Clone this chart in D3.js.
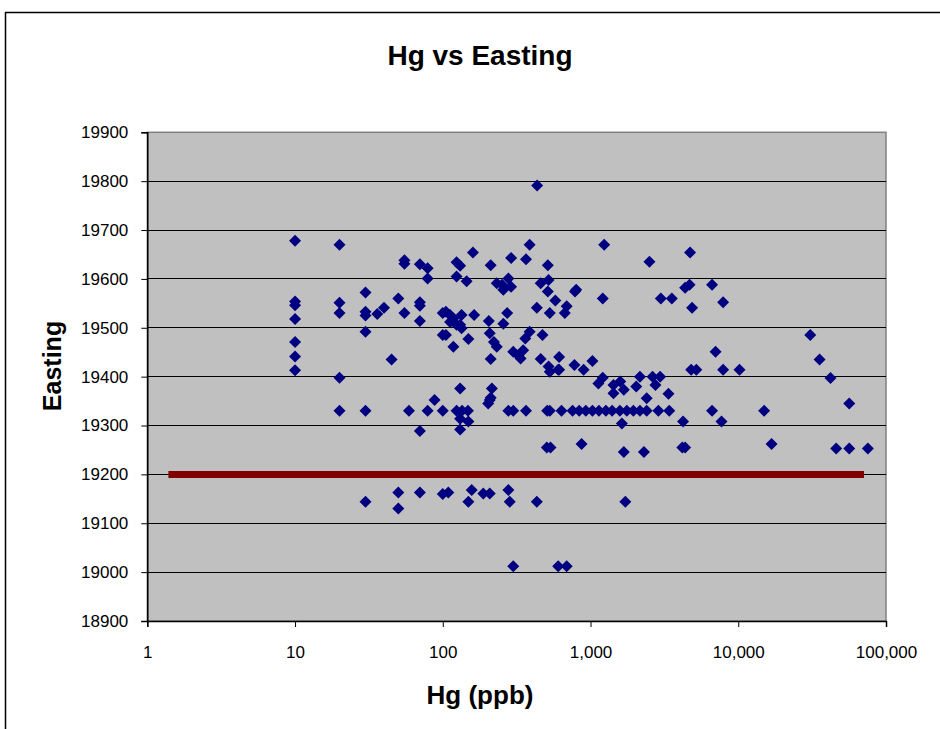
<!DOCTYPE html>
<html><head><meta charset="utf-8">
<script src="https://cdn.jsdelivr.net/npm/d3@7"></script>
<style>
body{margin:0;background:#fff}
svg{display:block}
text{font-family:"Liberation Sans",Arial,sans-serif;fill:#000}
</style>
</head><body>
<svg id="chart" width="940" height="729"></svg>
<script>
// Hg concentration (ppb) and Easting for each sample
const hg = [
 10,10,10,10,10,10,10,
 20,20,20,20,20,
 30,30,30,30,30,30,
 36,40,45,50,50,50,55,55,55,59,
 70,70,70,70,70,70,79,79,79,88,
 100,100,100,100,105,105,109,112,112,118,118,
 124,124,124,124,131,131,131,131,131,135,134,134,145,148,149,149,149,157,160,163,
 188,203,205,208,208,208,211,211,211,215,222,232,232,252,257,257,273,278,278,278,284,
 290,290,300,300,300,324,336,350,362,366,366,387,387,433,433,435,460,460,473,
 506,509,514,514,520,520,530,530,530,536,578,604,604,613,613,636,670,690,690,
 756,778,785,800,838,870,898,929,1030,1030,1130,1140,1210,1210,1237,1270,1400,1430,1430,
 1580,1590,1630,1680,1680,1720,1760,1950,2040,2160,2160,2300,2400,2400,2505,2630,2750,2880,2960,2990,
 3370,3410,3550,4180,4230,4370,4370,4680,4720,4800,4870,5200,6650,6650,7020,7700,7900,7900,
 10200,14970,16800,30700,35500,42100,46000,56400,56400,75400
];
const easting = [
 19678,19554,19546,19518,19471,19441,19413,
 19670,19551,19530,19398,19330,
 19572,19533,19525,19492,19330,19144,
 19528,19541,19435,19560,19163,19130,19638,19631,19530,19330,
 19630,19552,19545,19514,19289,19163,19622,19601,19330,19352,
 19330,19160,19485,19530,19485,19533,19163,19526,19512,19519,19461,
 19634,19605,19506,19330,19627,19506,19376,19314,19292,19330,19526,19499,19595,19330,19477,19308,19144,19168,19654,19526,
 19161,19345,19514,19489,19352,19161,19628,19436,19357,19376,19471,19591,19461,19588,19508,19578,19530,19601,19330,19168,19144,
 19643,19584,19451,19330,19012,19444,19437,19454,19478,19640,19330,19492,19670,19541,19144,19791,19591,19436,19485,
 19255,19330,19628,19574,19598,19421,19530,19410,19330,19255,19556,19414,19012,19440,19414,19330,19530,19544,19012,
 19330,19424,19574,19578,19330,19262,19414,19330,19432,19330,19386,19330,19398,19560,19670,19330,19330,19383,19366,
 19330,19390,19304,19373,19246,19144,19330,19330,19380,19400,19330,19246,19356,19330,19635,19400,19383,19330,19400,19560,
 19365,19330,19560,19255,19308,19582,19255,19588,19654,19414,19541,19414,19588,19330,19451,19308,19552,19414,
 19414,19330,19262,19485,19435,19397,19253,19345,19253,19253
];
// Reference line
const refLineHg = [1.39, 71000];
const refLineEasting = 19200;
// Axis ticks
const xTickValues = [1, 10, 100, 1000, 10000, 100000];
const yTickValues = [18900, 19000, 19100, 19200, 19300, 19400, 19500, 19600, 19700, 19800, 19900];

const title = "Hg vs Easting";
const xTitle = "Hg (ppb)";
const yTitle = "Easting";

const svg = d3.select("#chart");
const L = 147.3, R = 886, T = 132.3, B = 621;

const x = d3.scaleLog().domain([1, 100000]).range([L, R]);
const y = d3.scaleLinear().domain([18900, 19900]).range([B, T]);

// outer chart frame (extends beyond the window)
svg.append("rect").attr("x", 5.5).attr("y", 12.5).attr("width", 1000).attr("height", 1000)
  .attr("fill", "#fff").attr("stroke", "#000").attr("stroke-width", 1.5);

// plot area
svg.append("rect").attr("x", L).attr("y", T).attr("width", R - L).attr("height", B - T)
  .attr("fill", "#c0c0c0").attr("stroke", "#808080").attr("stroke-width", 1.5);

// gridlines
svg.append("g").selectAll("line").data(yTickValues.filter(v => v > 18900 && v < 19900)).join("line")
  .attr("x1", L).attr("x2", R).attr("y1", d => y(d)).attr("y2", d => y(d))
  .attr("stroke", "#000").attr("stroke-width", 1).attr("shape-rendering", "crispEdges");

// axes
const xAxis = d3.axisBottom(x).tickValues(xTickValues).tickFormat(d3.format(",")).tickSizeOuter(0).tickSize(6).tickPadding(19);
const gx = svg.append("g").attr("transform", `translate(0,${B})`).call(xAxis);
gx.select(".domain").attr("stroke", "#000").attr("stroke-width", 1.5);
gx.selectAll(".tick line").attr("stroke", "#000");
gx.selectAll("text").attr("font-size", 17).attr("font-family", "Liberation Sans, Arial, sans-serif");

const yAxis = d3.axisLeft(y).tickValues(yTickValues).tickFormat(d => d).tickSizeOuter(0).tickSize(6).tickPadding(13);
const gy = svg.append("g").attr("transform", `translate(${L},0)`).call(yAxis);
gy.select(".domain").attr("stroke", "#000").attr("stroke-width", 1.5);
gy.selectAll(".tick line").attr("stroke", "#000");
gy.selectAll("text").attr("font-size", 17).attr("font-family", "Liberation Sans, Arial, sans-serif");

// reference line
svg.append("line")
  .attr("x1", x(refLineHg[0])).attr("x2", x(refLineHg[1]))
  .attr("y1", y(refLineEasting)).attr("y2", y(refLineEasting))
  .attr("stroke", "#800000").attr("stroke-width", 7);

// points
const pts = hg.map((v, i) => [v, easting[i]]);
const r = 6;
svg.append("g").selectAll("path").data(pts).join("path")
  .attr("transform", d => `translate(${x(d[0])},${y(d[1])})`)
  .attr("d", `M0,${-r}L${r},0L0,${r}L${-r},0Z`)
  .attr("fill", "#000080");

// titles
svg.append("text").attr("x", 480).attr("y", 65).attr("text-anchor", "middle")
  .attr("font-size", 28).attr("font-weight", "bold").text(title);
svg.append("text").attr("x", 480).attr("y", 704).attr("text-anchor", "middle")
  .attr("font-size", 26).attr("font-weight", "bold").text(xTitle);
svg.append("text").attr("transform", "translate(61,366) rotate(-90)").attr("text-anchor", "middle")
  .attr("font-size", 25).attr("font-weight", "bold").text(yTitle);
</script>
</body></html>
